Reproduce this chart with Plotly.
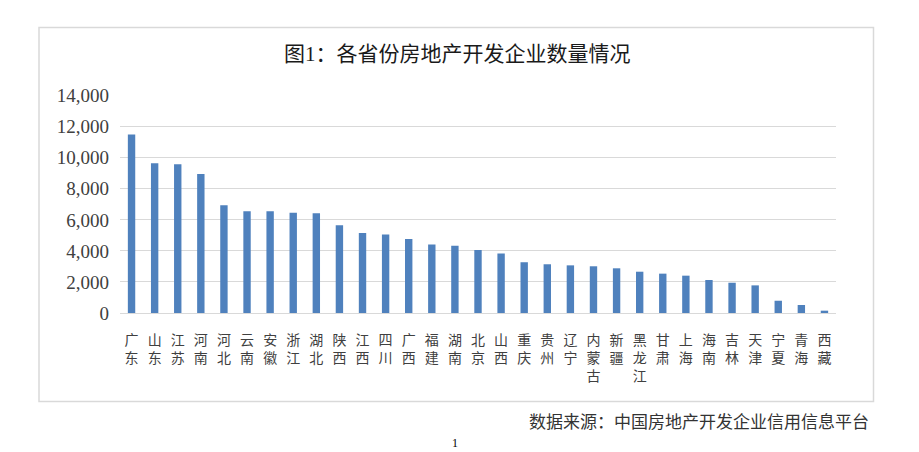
import plotly.graph_objects as go

provinces = ["广东", "山东", "江苏", "河南", "河北", "云南", "安徽", "浙江", "湖北", "陕西",
             "江西", "四川", "广西", "福建", "湖南", "北京", "山西", "重庆", "贵州", "辽宁",
             "内蒙古", "新疆", "黑龙江", "甘肃", "上海", "海南", "吉林", "天津", "宁夏", "青海", "西藏"]
counts = [11500, 9650, 9580, 8950, 6950, 6550, 6550, 6460, 6420, 5650,
          5150, 5050, 4770, 4420, 4340, 4060, 3840, 3270, 3140, 3070,
          3010, 2880, 2660, 2535, 2405, 2125, 1950, 1780, 790, 515, 150]
y_ticks = [0, 2000, 4000, 6000, 8000, 10000, 12000, 14000]
y_tick_labels = ["0", "2,000", "4,000", "6,000", "8,000", "10,000", "12,000", "14,000"]

title_text = "图1：各省份房地产开发企业数量情况"
source_text = "数据来源：中国房地产开发企业信用信息平台"

W, H = 919, 452
def px(x):
    return x / W
def py(y):
    return 1 - y / H

cjk = "Noto Sans CJK SC, sans-serif"
serif = "Liberation Serif, Noto Sans CJK SC, serif"

fig = go.Figure()
fig.add_trace(go.Bar(
    x=provinces, y=counts,
    marker=dict(color="#4F81BD", line=dict(width=0)),
    width=0.32,
    hoverinfo="x+y",
))

fig.update_layout(
    width=W, height=H,
    margin=dict(l=0, r=0, t=0, b=0, pad=0, autoexpand=False),
    paper_bgcolor="white", plot_bgcolor="white",
    showlegend=False,
    xaxis=dict(
        domain=[px(120), px(836)],
        tickmode="array",
        tickvals=provinces,
        ticktext=["<br>".join(list(p)) for p in provinces],
        tickfont=dict(family=cjk, size=14, color="#404040"),
        showgrid=False,
        showline=True, linecolor="#d9d9d9", linewidth=1,
        ticks="", ticklabelstandoff=14,
        automargin=False,
        fixedrange=True,
    ),
    yaxis=dict(
        domain=[py(313), py(95.7)],
        range=[0, 14000],
        tickmode="array",
        tickvals=y_ticks,
        ticktext=y_tick_labels,
        tickfont=dict(family=serif, size=19, color="#404040"),
        showgrid=True, gridcolor="#d9d9d9", gridwidth=1,
        zeroline=False, showline=False,
        ticks="", ticklabelstandoff=10,
        automargin=False,
        fixedrange=True,
    ),
    shapes=[dict(type="rect", xref="paper", yref="paper",
                 x0=px(39), x1=px(873.5), y0=py(401.5), y1=py(27.5),
                 line=dict(color="#d9d9d9", width=1.5), fillcolor="rgba(0,0,0,0)", layer="below")],
    annotations=[
        dict(text=title_text, xref="paper", yref="paper", x=px(457), y=py(54),
             xanchor="center", yanchor="middle", showarrow=False,
             font=dict(family=serif, size=21, color="#1a1a1a")),
        dict(text=source_text, xref="paper", yref="paper", x=px(871), y=py(420),
             xanchor="right", yanchor="middle", showarrow=False,
             font=dict(family=cjk, size=17, color="#333333")),
        dict(text="1", xref="paper", yref="paper", x=px(455), y=py(452),
             xanchor="center", yanchor="bottom", showarrow=False,
             font=dict(family=serif, size=12, color="#000000")),
    ],
)

fig.write_html("out.html", config={"displayModeBar": False},
               post_script="document.body.style.margin='0';document.body.style.overflow='hidden';")
